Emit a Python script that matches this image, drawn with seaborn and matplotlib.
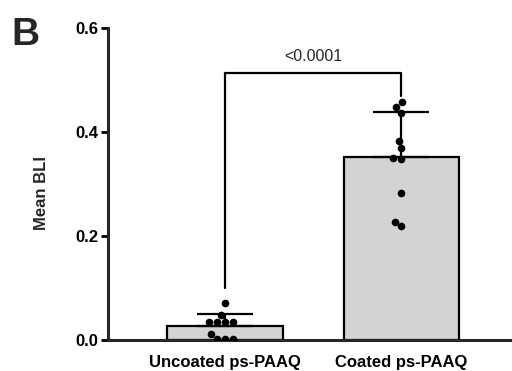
import matplotlib
matplotlib.use("Agg")
import matplotlib.pyplot as plt
import pandas as pd
import seaborn as sns

groups = ["Uncoated ps-PAAQ", "Coated ps-PAAQ"]
uncoated = [0.071, 0.048, 0.035, 0.035, 0.035, 0.035, 0.012, 0.002, 0.002, 0.002]
coated = [0.458, 0.448, 0.437, 0.383, 0.369, 0.350, 0.348, 0.283, 0.227, 0.219]
pLabel = "<0.0001"

df = pd.DataFrame({
    "Group": [groups[0]] * len(uncoated) + [groups[1]] * len(coated),
    "Mean BLI": uncoated + coated,
})
stats = df.groupby("Group", sort=False)["Mean BLI"].agg(["mean", "std"]).reindex(groups)

sns.set_theme(style="ticks")
plt.rcParams["font.family"] = ["Liberation Sans", "DejaVu Sans"]

fig = plt.figure(figsize=(5.12, 3.71), dpi=100)
ax = fig.add_axes([0.211, 0.0836, 0.789, 0.841])

sns.barplot(data=df, x="Group", y="Mean BLI", order=groups, errorbar=None,
            color="#d3d3d3", edgecolor="black", linewidth=1.6, width=0.655,
            saturation=1, ax=ax, zorder=1)
ax.errorbar(range(len(groups)), stats["mean"], yerr=[[0] * len(groups), stats["std"]],
            fmt="none", ecolor="black", elinewidth=1.6, capsize=20, capthick=1.6, zorder=2)
sns.swarmplot(data=df, x="Group", y="Mean BLI", order=groups, color="black",
              size=5.5, ax=ax, zorder=3)

# significance bracket
y0 = 0.513
ax.plot([0, 0, 1, 1], [0.10, y0, y0, 0.47], color="black", lw=1.6, clip_on=False)
ax.text(0.5, y0 + 0.018, pLabel, ha="center", va="bottom", fontsize=11.5)

ax.set_ylim(0, 0.6)
ax.set_xlim(-0.664, 1.627)
ax.set_yticks([0, 0.2, 0.4, 0.6])
ax.set_yticklabels(["0.0", "0.2", "0.4", "0.6"])
ax.set_xlabel("")
ax.set_ylabel("Mean BLI", fontsize=12, fontweight="bold")
ax.yaxis.set_label_coords(-0.145, 0.47)
ax.tick_params(axis="y", length=5, width=2, labelsize=12, pad=2, colors="black")
ax.tick_params(axis="x", length=0, labelsize=12, pad=11, colors="black")
for lab in ax.get_xticklabels() + ax.get_yticklabels():
    lab.set_fontweight("bold")
sns.despine(ax=ax)
ax.spines["left"].set_linewidth(2.2)
ax.spines["bottom"].set_linewidth(2.2)

fig.text(0.023, 1 - 45 / 371, "B", fontsize=28, fontweight="bold", va="baseline", ha="left")

fig.savefig("out.png", dpi=100)
